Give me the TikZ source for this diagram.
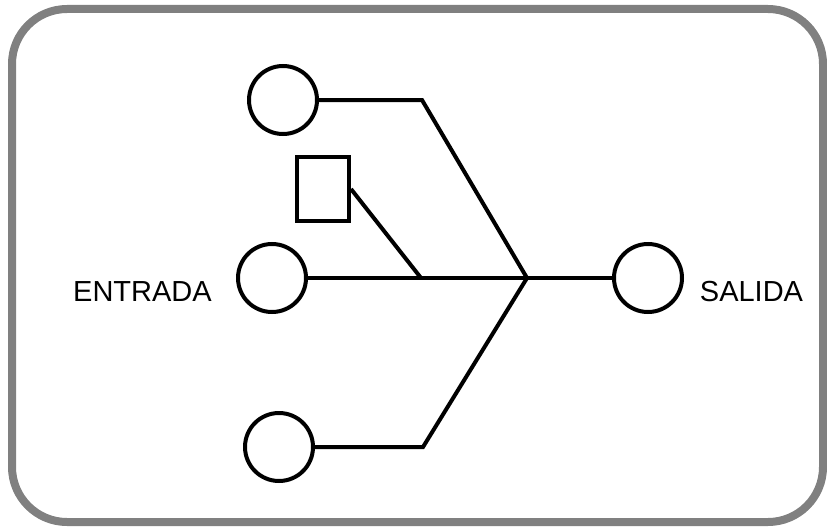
\documentclass[tikz,border=0pt]{standalone}
\usepackage{fontspec}
\setmainfont{Liberation Sans}
\begin{document}
\begin{tikzpicture}[x=1pt,y=-1pt,
  port/.style={circle,draw,line width=4pt,inner sep=0pt,minimum size=68pt},
  boxnode/.style={rectangle,draw,line width=4pt,inner sep=0pt,minimum width=52pt,minimum height=64pt},
  wire/.style={line width=4pt},
  label/.style={inner sep=0pt,anchor=base,font=\fontsize{29}{29}\selectfont}]
\useasboundingbox (0,0) rectangle (827,527);
% outer frame
\draw[line width=8pt,color=black!50,rounded corners=55pt] (12,9) rectangle (823,522);
% terminals
\node[port] (in1) at (283,100) {};
\node[port] (in2) at (272,278) {};
\node[port] (in3) at (279,447) {};
\node[port] (out) at (648,278) {};
\node[boxnode] (sq) at (323,189) {};
% bend points and junction
\coordinate (k1) at (422,100);
\coordinate (k3) at (423,447);
\coordinate (j) at (527,278);
\coordinate (m) at (421,278);
% wires
\draw[wire] (in1.east) -- (k1) -- (j);
\draw[wire] (in3.east) -- (k3) -- (j);
\draw[wire] (in2.east) -- (j) -- (out.west);
\draw[wire] (sq.east) -- (m);
% labels
\node[label] (entrada) at (142.5,301) {ENTRADA};
\node[label] (salida) at (751.5,301) {SALIDA};
\end{tikzpicture}
\end{document}
